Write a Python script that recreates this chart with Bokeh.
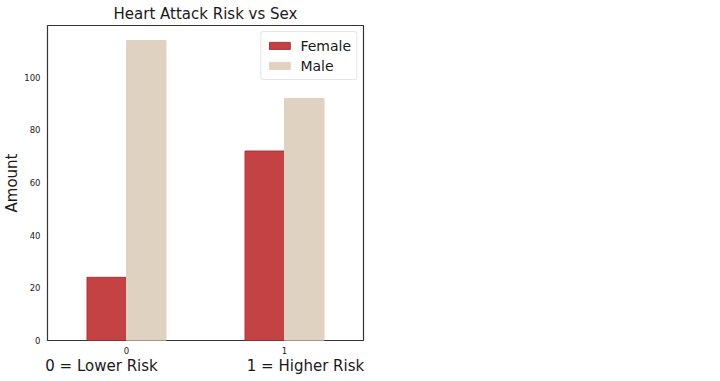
from bokeh.plotting import figure
from bokeh.models import ColumnDataSource, FixedTicker, LinearAxis, Legend, LegendItem, Range1d
from bokeh.transform import dodge
from bokeh.embed import file_html
from bokeh.resources import INLINE

categories = [0, 1]
female = [24, 72]
male = [114, 92]
risk_labels = ["0 = Lower Risk", "1 = Higher Risk"]
yticks = [0, 20, 40, 60, 80, 100]

src = ColumnDataSource(dict(x=categories, female=female, male=male))

p = figure(frame_width=316, frame_height=315, width=372, height=368,
           output_backend="svg", toolbar_location=None,
           x_range=Range1d(-0.5, 1.5), y_range=Range1d(0, 119.7),
           min_border_left=39, min_border_top=16, min_border_right=17, min_border_bottom=10)

p.title.text = "Heart Attack Risk vs Sex"
p.title.align = "center"
p.title.text_font = "DejaVu Sans"
p.title.text_font_size = "15px"
p.title.text_font_style = "normal"
p.title.text_color = "#1a1a1a"
p.title.standoff = 5

rf = p.vbar(x=dodge("x", -0.125, range=p.x_range), top="female", width=0.25, source=src,
            fill_color="#c44244", line_color="#a8343a", line_width=1)
rm = p.vbar(x=dodge("x", 0.125, range=p.x_range), top="male", width=0.25, source=src,
            fill_color="#e0d2c0", line_color="#e0d2c0", line_width=1)

p.grid.visible = False
p.outline_line_color = "#333333"
p.outline_line_width = 1.2
p.background_fill_color = "white"
p.border_fill_color = "white"

ya = p.yaxis[0]
ya.ticker = FixedTicker(ticks=yticks)
ya.axis_line_color = None
ya.major_tick_out = 0
ya.major_tick_in = 0
ya.minor_tick_line_color = None
ya.major_label_text_font = "DejaVu Sans"
ya.major_label_text_font_size = "8.5px"
ya.major_label_text_color = "#222222"
ya.major_label_standoff = 7
ya.axis_label = "Amount"
ya.axis_label_text_font = "DejaVu Sans"
ya.axis_label_text_font_size = "15px"
ya.axis_label_text_font_style = "normal"
ya.axis_label_text_color = "#1a1a1a"
ya.axis_label_standoff = 0

xa = p.xaxis[0]
xa.ticker = FixedTicker(ticks=categories)
xa.axis_line_color = None
xa.major_tick_out = 0
xa.major_tick_in = 0
xa.minor_tick_line_color = None
xa.major_label_text_font = "DejaVu Sans"
xa.major_label_text_font_size = "8.5px"
xa.major_label_text_color = "#222222"
xa.major_label_standoff = 6

xa2 = LinearAxis(ticker=FixedTicker(ticks=[-0.158, 1.133]),
                 major_label_overrides={-0.158: risk_labels[0], 1.133: risk_labels[1]})
xa2.axis_line_color = None
xa2.major_tick_out = 0
xa2.major_tick_in = 0
xa2.minor_tick_line_color = None
xa2.major_label_text_font = "DejaVu Sans"
xa2.major_label_text_font_size = "15px"
xa2.major_label_text_color = "#1a1a1a"
xa2.major_label_standoff = 0
p.add_layout(xa2, "below")

legend = Legend(items=[LegendItem(label="Female", renderers=[rf]),
                       LegendItem(label="Male", renderers=[rm])],
                location="top_right")
legend.label_text_font = "DejaVu Sans"
legend.label_text_font_size = "14px"
legend.label_text_color = "#1a1a1a"
legend.glyph_width = 26
legend.glyph_height = 9
legend.label_height = 17
legend.spacing = 3
legend.padding = 5
legend.margin = 6
legend.border_line_color = "#cccccc"
legend.border_radius = 3
legend.label_standoff = 8
p.add_layout(legend)

open("out.html", "w").write(file_html(p, INLINE))
